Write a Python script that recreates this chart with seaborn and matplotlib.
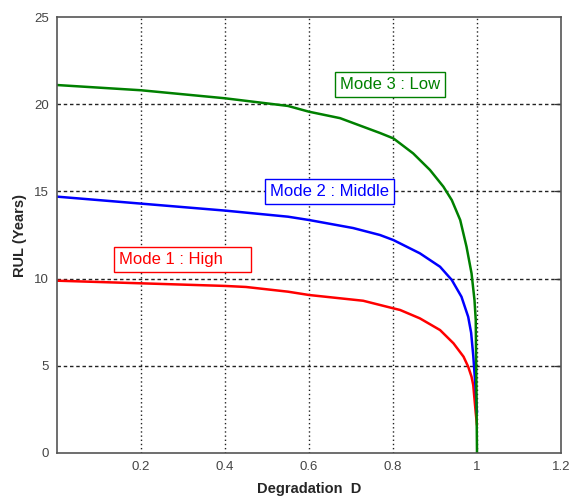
import matplotlib
matplotlib.use("Agg")
import matplotlib.pyplot as plt
import seaborn as sns

# Mode 1 : High (red)
high_d = [0.0, 0.2, 0.4, 0.45, 0.55, 0.6, 0.729, 0.8, 0.817, 0.864, 0.912, 0.944,
          0.968, 0.979, 0.987, 0.991, 0.997, 1.0]
high_rul = [9.88, 9.73, 9.58, 9.52, 9.25, 9.06, 8.73, 8.3, 8.2, 7.72, 7.05, 6.29,
            5.52, 4.95, 4.37, 3.9, 2.3, 1.6]

# Mode 2 : Middle (blue)
mid_d = [0.0, 0.2, 0.4, 0.55, 0.6, 0.705, 0.769, 0.801, 0.864, 0.912, 0.94,
         0.963, 0.979, 0.986, 0.991, 0.997, 1.0]
mid_rul = [14.7, 14.3, 13.9, 13.55, 13.36, 12.9, 12.5, 12.21, 11.45, 10.68, 9.92,
           8.96, 7.81, 6.9, 5.6, 3.6, 2.3]

# Mode 3 : Low (green)
low_d = [0.0, 0.2, 0.4, 0.55, 0.6, 0.674, 0.769, 0.801, 0.848, 0.888, 0.92, 0.94,
         0.96, 0.975, 0.987, 0.994, 0.997, 1.0]
low_rul = [21.1, 20.8, 20.34, 19.9, 19.57, 19.2, 18.35, 18.04, 17.18, 16.23, 15.27, 14.5,
           13.36, 11.83, 10.3, 8.77, 7.63, 0.0]

x_ticks = [0.2, 0.4, 0.6, 0.8, 1.0, 1.2]
x_tick_labels = ["0.2", "0.4", "0.6", "0.8", "1", "1.2"]
y_ticks = [0, 5, 10, 15, 20, 25]

sns.set_style("white")
plt.rcParams["font.family"] = ["Liberation Sans", "DejaVu Sans"]

fig = plt.figure(figsize=(5.71, 4.96), dpi=100)
ax = fig.add_axes([0.0998, 0.0867, 0.8827, 0.879])

red, blue, green = "#ff0000", "#0000ff", "#008000"
sns.lineplot(x=high_d, y=high_rul, color=red, lw=1.8, sort=False, estimator=None, ax=ax)
sns.lineplot(x=mid_d, y=mid_rul, color=blue, lw=1.8, sort=False, estimator=None, ax=ax)
sns.lineplot(x=low_d, y=low_rul, color=green, lw=1.8, sort=False, estimator=None, ax=ax)

ax.set_xlim(0, 1.2)
ax.set_ylim(0, 25)
ax.set_xticks(x_ticks)
ax.set_xticklabels(x_tick_labels)
ax.set_yticks(y_ticks)
ax.tick_params(labelsize=9.5, labelcolor="#444444", length=0, pad=6)

for xv in x_ticks[:-1]:
    ax.axvline(xv, color="#222222", lw=1.0, ls=(0, (1, 2)), zorder=0)
for yv in y_ticks[1:-1]:
    ax.axhline(yv, color="#222222", lw=1.0, ls=(0, (2.5, 2)), zorder=0)
    ax.plot([1.185, 1.2], [yv, yv], color="#333333", lw=1.0, zorder=1)

for sp in ax.spines.values():
    sp.set_color("#555555")
    sp.set_linewidth(1.2)

ax.set_xlabel("Degradation  D", fontsize=10.5, fontweight="bold", labelpad=6)
ax.set_ylabel("RUL (Years)", fontsize=10.5, fontweight="bold", labelpad=5)

box = dict(boxstyle="square,pad=0.3", fc="white", lw=1.0)
ax.text(0.793, 21.13, "Mode 3 : Low", color=green, fontsize=12, ha="center", va="center",
        bbox=dict(box, ec=green))
ax.text(0.649, 15.0, "Mode 2 : Middle", color=blue, fontsize=12, ha="center", va="center",
        bbox=dict(box, ec=blue))
ax.text(0.148, 11.07, "Mode 1 : High     ", color=red, fontsize=12, ha="left", va="center",
        bbox=dict(box, ec=red))

fig.savefig("out.png", dpi=100)
